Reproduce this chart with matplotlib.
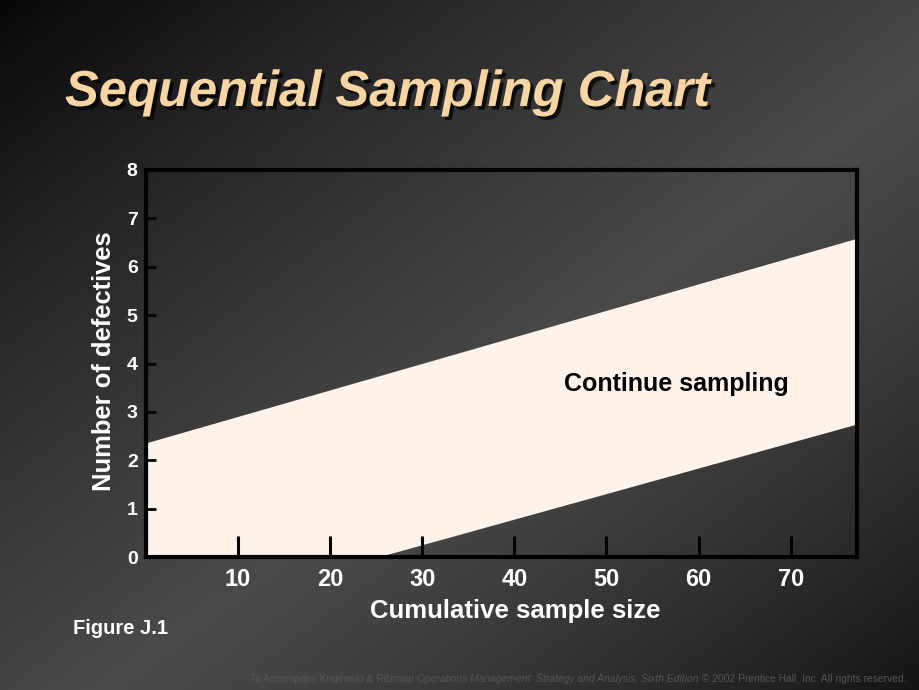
import matplotlib
matplotlib.use("Agg")
import matplotlib.pyplot as plt
import matplotlib.patheffects as pe
import numpy as np

# ---- data ----
sample_size = [0.0, 77.2]          # cumulative sample size (x-range of the band)
upper_line = [2.36, 6.59]          # reject line: number of defectives
lower_line = [-1.33, 2.75]         # accept line: number of defectives
x_ticks = [10, 20, 30, 40, 50, 60, 70]
y_ticks = [0, 1, 2, 3, 4, 5, 6, 7, 8]
title = "Sequential Sampling Chart"
x_label = "Cumulative sample size"
y_label = "Number of defectives"
band_label = "Continue sampling"

FONT = "Liberation Sans"
plt.rcParams["font.family"] = [FONT, "DejaVu Sans"]

fig = plt.figure(figsize=(9.2, 6.9), dpi=100)

# ---- background gradient ----
bg = fig.add_axes([0, 0, 1, 1], zorder=-10)
H, W = 345, 460
yy, xx = np.mgrid[0:H, 0:W]
t = (xx / W + yy / H) / 2.0
lo, mid, hi = 0.02, 0.29, 0.08
val = np.where(t < 0.55, lo + (mid - lo) * (t / 0.55) ** 0.8,
               mid + (hi - mid) * ((t - 0.55) / 0.45) ** 1.3)
img = np.dstack([val, val, val])
bg.imshow(img, extent=[0, 1, 0, 1], aspect="auto", origin="upper", interpolation="bilinear")
bg.set_axis_off()

# ---- main axes ----
ax = fig.add_axes([146 / 920, 1 - 557 / 690, 711 / 920, 387 / 690])
ax.set_facecolor("none")
ax.fill_between(sample_size, lower_line, upper_line, color="#FDF3EA", linewidth=0, zorder=1)
ax.set_xlim(sample_size[0], sample_size[-1])
ax.set_ylim(0, 8)

for s in ax.spines.values():
    s.set_color("black")
    s.set_linewidth(3)
    s.set_zorder(5)

ax.set_xticks(x_ticks)
ax.set_yticks(y_ticks)
ax.tick_params(axis="x", direction="in", length=15, width=2.2, color="black",
               labelcolor="white", labelsize=17, pad=8)
ax.tick_params(axis="y", direction="in", length=7, width=2.0, color="black",
               labelcolor="white", labelsize=14, pad=6)
for lab in ax.get_xticklabels() + ax.get_yticklabels():
    lab.set_fontweight("bold")

ax.set_xlabel(x_label, color="white", fontsize=18.5, fontweight="bold")
ax.xaxis.set_label_coords((515 - 146) / 711, -0.108)
ax.set_ylabel(y_label, color="white", fontsize=18.4, fontweight="bold")
ax.yaxis.set_label_coords(-0.042, 0.506)

ax.text(57.6, 3.57, band_label, ha="center", va="center", color="black",
        fontsize=18, fontweight="bold", zorder=3)

# ---- title with shadow ----
fig.text(65 / 920, 1 - 106 / 690, title, ha="left", va="baseline",
         color="#F8D6A3", fontsize=36.5, fontweight="bold", fontstyle="italic",
         path_effects=[pe.SimplePatchShadow(offset=(2.5, -2.5), shadow_rgbFace="black", alpha=0.75),
                       pe.Normal()])

fig.text(73 / 920, 1 - 634 / 690, "Figure J.1", ha="left", va="baseline",
         color="white", fontsize=14.5, fontweight="bold")

# ---- footer (mixed styles) ----
renderer = fig.canvas.get_renderer()
pieces = [("To Accompany Krajewski & Ritzman ", "normal"),
          ("Operations Management: Strategy and Analysis, Sixth Edition", "italic"),
          (" \u00a9 2002 Prentice Hall, Inc. All rights reserved.", "normal")]
x_right = 906 / 920
y_base = 1 - 682 / 690
for txt, style in reversed(pieces):
    tobj = fig.text(x_right, y_base, txt, ha="right", va="baseline",
                    color="#575757", fontsize=7.35, fontstyle=style)
    bb = tobj.get_window_extent(renderer=renderer)
    x_right = bb.x0 / fig.bbox.width

fig.savefig("out.png", dpi=100)
